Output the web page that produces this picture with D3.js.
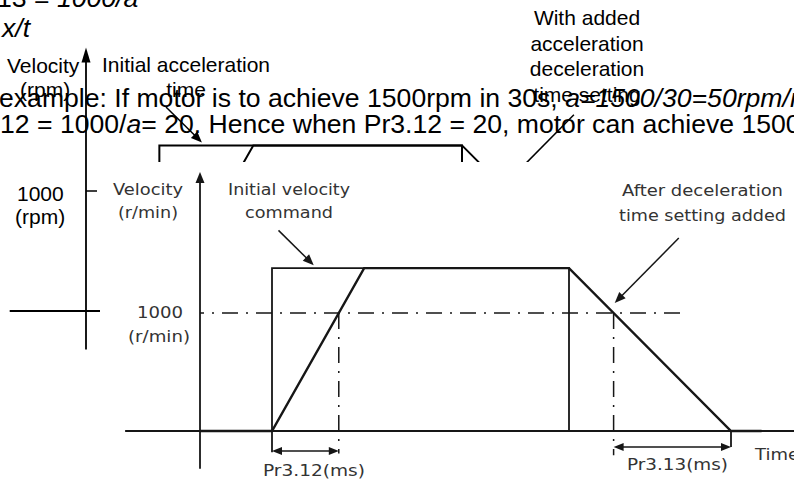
<!DOCTYPE html>
<html><head><meta charset="utf-8">
<script src="https://cdn.jsdelivr.net/npm/d3@7"></script>
<style>html,body{margin:0;padding:0;background:#fff;overflow:hidden}</style>
</head><body><svg id="c" width="794" height="480"></svg>
<script>
// ---------------- data ----------------
// velocity command (step) and actual velocity with acceleration/deceleration time
const commandT = [0, 10, 10, 51.25, 51.25];
const commandV = [0, 0, 1380, 1380, 0];
const actualT  = [0, 10, 22.8, 51.25, 73.75, 78];
const actualV  = [0, 0, 1380, 1380, 0, 0];
const refSpeed = 1000;                 // r/min
const timeAxisExtent = [-10.4, 83];
const velAxisExtent  = [-320, 2195];
const refLineEnd = 66.7;               // where the dash-dot reference line stops
// annotation arrows [t, v] -> [t, v]
const accelArrowFrom = [10.9, 1700], accelArrowTo = [15.8, 1405];
const decelArrowFrom = [66.5, 1635], decelArrowTo = [57.6, 1085];
// text
const bgLabels = ["Velocity", "(rpm)", "Initial acceleration", "time"];
const bgRightLabel = ["With added", "acceleration", "deceleration", "time setting"];
const bgTickLabels = ["1000", "(rpm)"];
const ovAxisLabels = ["Velocity", "(r/min)", "Time"];
const ovTickLabels = ["1000", "(r/min)"];
const ovNotes = ["Initial velocity", "command", "After deceleration", "time setting added"];
const ovSpanLabels = ["Pr3.12(ms)", "Pr3.13(ms)"];

// ---------------- helpers ----------------
const svg = d3.select("#c");
const FONT = "'Liberation Sans', Arial, sans-serif";
const FONT2 = "'DejaVu Sans', Verdana, sans-serif";

function crossing(ts, vs, level, rising) {
  for (let i = 0; i < ts.length - 1; i++) {
    const a = vs[i], b = vs[i + 1];
    if (rising ? (a < level && b >= level) : (a > level && b <= level)) {
      return ts[i] + (level - a) / (b - a) * (ts[i + 1] - ts[i]);
    }
  }
  return null;
}
function arrowHead(g, x1, y1, x2, y2, len, half, color) {
  const ang = Math.atan2(y2 - y1, x2 - x1);
  const bx = x2 - len * Math.cos(ang), by = y2 - len * Math.sin(ang);
  const px = -Math.sin(ang) * half, py = Math.cos(ang) * half;
  g.append("path")
    .attr("d", `M${x2},${y2}L${bx + px},${by + py}L${bx - px},${by - py}Z`)
    .attr("fill", color);
}
function arrowLine(g, x1, y1, x2, y2, sw, color, len, half) {
  const ang = Math.atan2(y2 - y1, x2 - x1);
  g.append("line").attr("x1", x1).attr("y1", y1)
    .attr("x2", x2 - (len * 0.6) * Math.cos(ang)).attr("y2", y2 - (len * 0.6) * Math.sin(ang))
    .attr("stroke", color).attr("stroke-width", sw);
  arrowHead(g, x1, y1, x2, y2, len, half, color);
}

function drawDiagram(g, x, y, opt) {
  const line = d3.line().x(d => x(d[0])).y(d => y(d[1]));
  const col = opt.color;
  g.append("line").attr("x1", x(timeAxisExtent[0])).attr("x2", x(timeAxisExtent[1]))
    .attr("y1", y(0)).attr("y2", y(0)).attr("stroke", col).attr("stroke-width", opt.axisW);
  g.append("line").attr("x1", x(0)).attr("x2", x(0))
    .attr("y1", y(velAxisExtent[0])).attr("y2", y(velAxisExtent[1]) + opt.axLen * 0.6)
    .attr("stroke", col).attr("stroke-width", opt.axisW);
  arrowHead(g, x(0), y(0), x(0), y(velAxisExtent[1]), opt.axLen, opt.axHalf, col);
  g.append("line").attr("x1", x(0)).attr("x2", x(refLineEnd))
    .attr("y1", y(refSpeed)).attr("y2", y(refSpeed))
    .attr("stroke", col).attr("stroke-width", 1.5)
    .attr("stroke-dasharray", "16,8,2,8").attr("stroke-dashoffset", opt.dashOff);
  g.append("path").datum(commandT.map((t, i) => [t, commandV[i]]))
    .attr("d", line).attr("fill", "none").attr("stroke", col).attr("stroke-width", opt.cmdW);
  g.append("path").datum(actualT.map((t, i) => [t, actualV[i]]))
    .attr("d", line).attr("fill", "none").attr("stroke", col).attr("stroke-width", opt.actW)
    .attr("stroke-linejoin", "miter");
  arrowLine(g, x(accelArrowFrom[0]), y(accelArrowFrom[1]), x(accelArrowTo[0]), y(accelArrowTo[1]), 1.5, col, 11, 4.5);
  arrowLine(g, x(decelArrowFrom[0]), y(decelArrowFrom[1]), x(decelArrowTo[0]), y(decelArrowTo[1]), 1.5, col, 11, 4.5);
}

// ---------------- background (document) layer ----------------
const bg = svg.append("g");
const xb = d3.scaleLinear().domain([0, 51.25]).range([86, 462]);
const yb = d3.scaleLinear().domain([0, 1000]).range([311, 191]);
drawDiagram(bg, xb, yb, {color: "#000", axisW: 1.8, cmdW: 2, actW: 2, axLen: 15, axHalf: 4.5, dashOff: 5});

const t21 = (s, x, y, anchor) => bg.append("text").text(s).attr("x", x).attr("y", y)
  .attr("font-family", FONT).attr("font-size", 21).attr("fill", "#000")
  .attr("text-anchor", anchor || "start");
t21(bgLabels[0], 7, 73);
t21(bgLabels[1], 20, 97);
t21(bgLabels[2], 186, 72, "middle");
t21(bgLabels[3], 186, 97, "middle");
bgRightLabel.forEach((s, i) => t21(s, 587, 25 + i * 25.5, "middle"));
t21(bgTickLabels[0], 17, 201);
t21(bgTickLabels[1], 15, 224);

// main paragraph text
const para = svg.append("g").attr("font-family", FONT).attr("font-size", 26.6).attr("fill", "#000");
function paraLine(x, y, parts) {
  const t = para.append("text").attr("x", x).attr("y", y).attr("xml:space", "preserve");
  parts.forEach(p => t.append("tspan").text(p[0]).attr("font-style", p[1] ? "italic" : "normal"));
}
paraLine(-3, 7, [["13 = ", 0], ["1000/a", 1]]);
paraLine(2, 37, [["x/t", 1]]);
paraLine(-1, 107, [["example: If motor is to achieve 1500rpm in 30s, ", 0], ["a=1500/30=50rpm/ms", 1]]);
paraLine(0, 133, [["12 = 1000/", 0], ["a", 1], ["= 20. Hence when Pr3.12 = 20, motor can achieve 1500rpm", 0]]);

// ---------------- overlaid figure ----------------
const ov = svg.append("g");
ov.append("rect").attr("x", 100).attr("y", 162).attr("width", 694).attr("height", 318).attr("fill", "#fff");
const xo = d3.scaleLinear().domain([0, 80]).range([200, 776]);
const yo = d3.scaleLinear().domain([0, 1000]).range([431, 313]);
const LC = "#161616";
drawDiagram(ov, xo, yo, {color: LC, axisW: 1.8, cmdW: 1.8, actW: 2.4, axLen: 11, axHalf: 4.5, dashOff: 12});

const tUp = crossing(actualT, actualV, refSpeed, true);
const tDown = crossing(actualT, actualV, refSpeed, false);
const tStart = actualT[1], tStop = actualT[4];
[[tUp, -190], [tDown, -205]].forEach(([t, vEnd]) => {
  ov.append("line").attr("x1", xo(t)).attr("x2", xo(t)).attr("y1", yo(refSpeed)).attr("y2", yo(vEnd))
    .attr("stroke", LC).attr("stroke-width", 1.5).attr("stroke-dasharray", "16,8,2,8");
});
ov.append("line").attr("x1", xo(tStart)).attr("x2", xo(tStart)).attr("y1", yo(0)).attr("y2", yo(-180))
  .attr("stroke", LC).attr("stroke-width", 1.8);
ov.append("line").attr("x1", xo(tStop)).attr("x2", xo(tStop)).attr("y1", yo(0)).attr("y2", yo(-136))
  .attr("stroke", LC).attr("stroke-width", 1.8);
function dbl(t1, t2, v) {
  const x1 = xo(t1), x2 = xo(t2), y = yo(v);
  ov.append("line").attr("x1", x1 + 5).attr("x2", x2 - 5).attr("y1", y).attr("y2", y)
    .attr("stroke", LC).attr("stroke-width", 1.6);
  arrowHead(ov, x2, y, x1, y, 10, 4, LC);
  arrowHead(ov, x1, y, x2, y, 10, 4, LC);
}
dbl(tStart, tUp, -170);
dbl(tDown, tStop, -136);

const t16 = (s, x, y, len) => ov.append("text").text(s).attr("x", x).attr("y", y)
  .attr("font-family", FONT2).attr("font-size", 16).attr("fill", "#333")
  .attr("textLength", len).attr("lengthAdjust", "spacingAndGlyphs");
t16(ovAxisLabels[0], 113, 195, 70);
t16(ovAxisLabels[1], 118, 218, 60);
t16(ovTickLabels[0], 137, 318, 46);
t16(ovTickLabels[1], 128, 342, 62);
t16(ovNotes[0], 228, 195, 122);
t16(ovNotes[1], 245, 218, 88);
t16(ovNotes[2], 622, 196, 161);
t16(ovNotes[3], 619, 221, 167);
t16(ovSpanLabels[0], 263, 476, 102);
t16(ovSpanLabels[1], 627, 470, 101);
t16(ovAxisLabels[2], 755, 460, 44);
</script></body></html>
